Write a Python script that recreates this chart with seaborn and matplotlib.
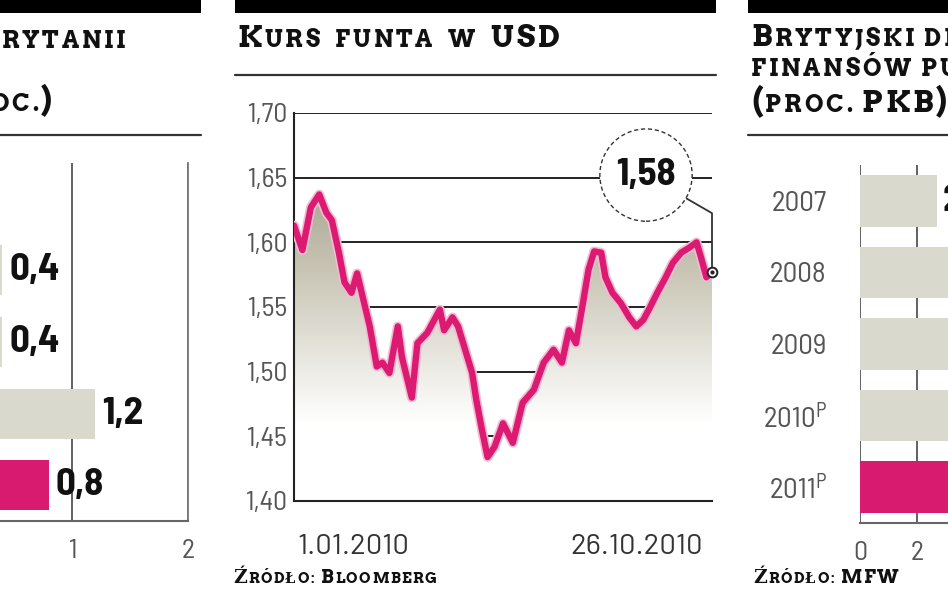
import numpy as np
import pandas as pd
import matplotlib
matplotlib.use("Agg")
import matplotlib.pyplot as plt
import matplotlib.dates as mdates
import matplotlib.patheffects as pe
from matplotlib.colors import LinearSegmentedColormap
from matplotlib.lines import Line2D
from matplotlib.patches import Rectangle
from matplotlib.offsetbox import TextArea, HPacker, AnchoredOffsetbox
from matplotlib.transforms import ScaledTranslation
import seaborn as sns

# --- data -------------------------------------------------------------------
gdp_quarters = ["III kw. 2009", "IV kw. 2009", "I kw. 2010", "II kw. 2010", "III kw. 2010"]
gdp_growth = [-0.3, 0.4, 0.4, 1.2, 0.8]

gbp_dates = [
    "2010-01-01", "2010-01-07", "2010-01-13", "2010-01-19", "2010-01-24", "2010-01-28",
    "2010-02-02", "2010-02-06", "2010-02-11", "2010-02-15", "2010-02-20", "2010-02-24",
    "2010-03-01", "2010-03-05", "2010-03-10", "2010-03-16", "2010-03-19", "2010-03-26",
    "2010-03-30", "2010-04-06", "2010-04-10", "2010-04-15", "2010-04-18", "2010-04-24",
    "2010-04-28", "2010-05-03", "2010-05-08", "2010-05-11", "2010-05-15", "2010-05-19",
    "2010-05-24", "2010-05-30", "2010-06-06", "2010-06-13", "2010-06-21", "2010-06-28",
    "2010-07-05", "2010-07-11", "2010-07-16", "2010-07-21", "2010-07-26", "2010-07-30",
    "2010-08-03", "2010-08-08", "2010-08-11", "2010-08-16", "2010-08-22", "2010-08-28",
    "2010-09-02", "2010-09-07", "2010-09-11", "2010-09-17", "2010-09-23", "2010-09-28",
    "2010-10-04", "2010-10-10", "2010-10-15", "2010-10-18", "2010-10-22", "2010-10-26",
]
gbp_usd = [
    1.613, 1.594, 1.627, 1.637, 1.623, 1.617,
    1.592, 1.569, 1.561, 1.576, 1.553, 1.535,
    1.504, 1.507, 1.499, 1.535, 1.511, 1.480,
    1.522, 1.530, 1.538, 1.548, 1.532, 1.542,
    1.535, 1.517, 1.499, 1.478, 1.455, 1.434,
    1.442, 1.460, 1.445, 1.476, 1.486, 1.507,
    1.517, 1.507, 1.532, 1.522, 1.553, 1.579,
    1.593, 1.592, 1.573, 1.561, 1.553, 1.542,
    1.535, 1.540, 1.548, 1.561, 1.573, 1.584,
    1.592, 1.596, 1.600, 1.589, 1.573, 1.577,
]
gbp_ticks = ["1.01.2010", "26.10.2010"]

deficit_years = ["2007", "2008", "2009", "2010P", "2011P"]
deficit_pct = [2.7, 4.9, 11.3, 10.2, 8.1]

GREY_BAR = "#d9d9cd"
MAGENTA = "#d81b6e"
SEMI = ["Barlow Semi Condensed", "DejaVu Sans"]
WIDE = ["Barlow", "DejaVu Sans"]
SLAB = ["Arvo", "DejaVu Serif"]

sns.set_theme(style="white")
plt.rcParams["font.family"] = SEMI
plt.rcParams["mathtext.fontset"] = "custom"
plt.rcParams["mathtext.rm"] = "Barlow Semi Condensed"
plt.rcParams["mathtext.it"] = "Barlow Semi Condensed"

W, H = 948, 593
fig = plt.figure(figsize=(W / 100, H / 100), dpi=100)


def axes_px(left, top, right, bottom):
    return fig.add_axes([left / W, 1 - bottom / H, (right - left) / W, (bottom - top) / H])


def small_caps(text, px, py, big=22, small=17, track=2, space=9,
               align="left", color="#111111"):
    """Fake small caps: capitals big, lower case as smaller capitals."""
    words = []
    for word in text.split(" "):
        boxes = []
        for ch in word:
            is_big = ch.isupper() or ch.isdigit() or ch in "()"
            boxes.append(TextArea(ch if is_big else ch.upper(),
                                  textprops=dict(fontsize=big if is_big else small,
                                                 fontweight="bold", family=SLAB,
                                                 color=color)))
        words.append(HPacker(children=boxes, align="baseline", pad=0, sep=track))
    line = HPacker(children=words, align="baseline", pad=0, sep=space)
    loc = "center left" if align == "left" else "center right"
    box = AnchoredOffsetbox(loc=loc, child=line, pad=0, borderpad=0, frameon=False,
                            bbox_to_anchor=(px / W, 1 - py / H),
                            bbox_transform=fig.transFigure)
    fig.add_artist(box)


def header(x0, x1, rule_y):
    fig.add_artist(Rectangle((x0 / W, 1 - 13 / H), (x1 - x0) / W, 13 / H,
                             transform=fig.transFigure, color="#000000", lw=0))
    fig.add_artist(Line2D([x0 / W, x1 / W], [1 - rule_y / H] * 2,
                          transform=fig.transFigure, color="#333333", lw=1.6))


def fmt(v, nd=1):
    return f"{v:.{nd}f}".replace(".", ",")


# --- left panel: GDP growth --------------------------------------------------
header(0, 201, 135)
small_caps("Wzrost PKB Wielkiej Brytanii", 125, 40, align="right")
small_caps("(proc.)", 52, 101, align="right")

ax_l = axes_px(-160, 163, 188, 521)
df_gdp = pd.DataFrame({"q": gdp_quarters, "v": gdp_growth})
sns.barplot(data=df_gdp, x="v", y="q", hue="q", orient="h", width=0.7,
            palette=[GREY_BAR] * 4 + [MAGENTA], saturation=1, linewidth=0,
            legend=False, ax=ax_l)
ax_l.set_xlim(-1, 2)
ax_l.set_ylim(4.5, -0.5)
ax_l.set_xticks([0, 1, 2])
ax_l.set_xticklabels(["0", "1", "2"])
ax_l.grid(axis="x", color="#555555", lw=1.3)
ax_l.set_axisbelow(True)
for i, val in enumerate(gdp_growth):
    ax_l.annotate(fmt(val), (val, i), xytext=(5 if val >= 0 else -5, 0),
                  textcoords="offset points", ha="left" if val >= 0 else "right",
                  va="center", fontsize=28, fontweight="bold", color="#111111")

# --- middle panel: GBP/USD ---------------------------------------------------
header(235, 716, 75)
small_caps("Kurs funta w USD", 237, 39, space=11)
small_caps("Źródło: Bloomberg", 233, 578, big=13.5, small=10.5, track=1, space=5)

ax_m = axes_px(294, 113, 712, 501)
dates = pd.to_datetime(gbp_dates)
df_fx = pd.DataFrame({"date": dates, "rate": gbp_usd})
sns.lineplot(data=df_fx, x="date", y="rate", color="#dd1a72", lw=4.6, ax=ax_m,
             zorder=4,
             path_effects=[pe.Stroke(linewidth=7, foreground="#f2bcd3"), pe.Normal()])

under = ax_m.fill_between(dates, gbp_usd, 1.40, color="none", lw=0)
x0, x1 = mdates.date2num(dates[0]), mdates.date2num(dates[-1])
cmap = LinearSegmentedColormap.from_list(
    "fade", [(0, "white"), (0.2, "white"), (0.55, "#cfccbd"), (0.85, "#a4a08c"), (1, "#9e9984")])
grad = np.linspace(0, 1, 256).reshape(-1, 1)
img = ax_m.imshow(grad, extent=[x0, x1, 1.40, 1.70], origin="lower", aspect="auto",
                  cmap=cmap, zorder=1)
img.set_clip_path(under.get_paths()[0], transform=ax_m.transData)

ax_m.set_xlim(x0, x1)
ax_m.set_ylim(1.40, 1.70)
yt = [1.40, 1.45, 1.50, 1.55, 1.60, 1.65, 1.70]
ax_m.set_yticks(yt)
ax_m.set_yticklabels([fmt(v, 2) for v in yt])
ax_m.grid(axis="y", color="#222222", lw=1.4, zorder=2)
ax_m.set_xticks([x0, x1])
ax_m.set_xticklabels(gbp_ticks)
ax_m.set_xlabel("")
ax_m.set_ylabel("")
ax_m.tick_params(axis="x", length=0, pad=24, labelsize=21, labelcolor="#333333")
ax_m.tick_params(axis="y", length=0, pad=5, labelsize=20, labelcolor="#555555")
lab0, lab1 = ax_m.get_xticklabels()
for lab in (lab0, lab1):
    lab.set_family(WIDE)
lab0.set_ha("left")
lab1.set_ha("right")
lab0.set_transform(lab0.get_transform() + ScaledTranslation(3 / 100, 0, fig.dpi_scale_trans))
lab1.set_transform(lab1.get_transform() + ScaledTranslation(-9 / 100, 0, fig.dpi_scale_trans))
for s in ["top", "right"]:
    ax_m.spines[s].set_visible(False)
for s in ["left", "bottom"]:
    ax_m.spines[s].set_color("#222222")
    ax_m.spines[s].set_linewidth(1.5)

last_x, last_y = dates[-1], gbp_usd[-1]
ax_m.annotate(fmt(last_y, 2), xy=(last_x, last_y), xytext=(-66 * 0.72, 97 * 0.72),
              textcoords="offset points", ha="center", va="center",
              fontsize=28, fontweight="bold", color="#111111", zorder=6,
              annotation_clip=False,
              bbox=dict(boxstyle="circle,pad=0.42", fc="white", ec="#333333",
                        ls=(0, (3, 2)), lw=1.0),
              arrowprops=dict(arrowstyle="-", color="#333333", lw=1.3, shrinkA=0, shrinkB=4,
                              connectionstyle="angle,angleA=-30,angleB=90,rad=0"))
ax_m.plot([last_x], [last_y], marker="o", ms=7, mfc="white", mec="#222222", mew=1.4,
          zorder=7, clip_on=False)
ax_m.plot([last_x], [last_y], marker="o", ms=2, color="#222222", zorder=8, clip_on=False)

# --- right panel: UK deficit ---------------------------------------------------
header(748, 948, 135)
small_caps("Brytyjski deficyt", 751, 38, space=7)
small_caps("finansów publicznych", 751, 70, space=7)
small_caps("(proc. PKB)", 751, 102, space=7)
small_caps("Źródło: MFW", 753, 578, big=13.5, small=10.5, track=1, space=5)

ax_r = axes_px(860, 165, 1202, 523)
year_labels = [y[:-1] + "$^{\\mathrm{P}}$" if y.endswith("P") else y for y in deficit_years]
df_def = pd.DataFrame({"year": year_labels, "pct": deficit_pct})
sns.barplot(data=df_def, x="pct", y="year", hue="year", orient="h", width=0.72,
            palette=[GREY_BAR] * 4 + [MAGENTA], saturation=1, linewidth=0,
            legend=False, ax=ax_r)
ax_r.set_xlim(0, 12)
ax_r.set_ylim(4.5, -0.5)
ax_r.set_xticks(np.arange(0, 13, 2))
ax_r.grid(axis="x", color="#555555", lw=1.3)
ax_r.set_axisbelow(True)
for i, val in enumerate(deficit_pct):
    ax_r.annotate(fmt(val), (val, i), xytext=(4, 0), textcoords="offset points",
                  ha="left", va="center", fontsize=28, fontweight="bold", color="#111111")

for ax in (ax_l, ax_r):
    ax.set_xlabel("")
    ax.set_ylabel("")
    for s in ["top", "right", "left"]:
        ax.spines[s].set_visible(False)
    ax.spines["bottom"].set_color("#666666")
    ax.spines["bottom"].set_linewidth(1.5)
    ax.tick_params(axis="x", length=0, pad=13, labelsize=20, labelcolor="#555555")
    ax.tick_params(axis="y", length=0, pad=24, labelsize=21, labelcolor="#555555")
ax_l.spines["right"].set_visible(True)
ax_l.spines["right"].set_color("#777777")
ax_l.spines["right"].set_linewidth(1.3)

fig.savefig("out.png", dpi=100)
